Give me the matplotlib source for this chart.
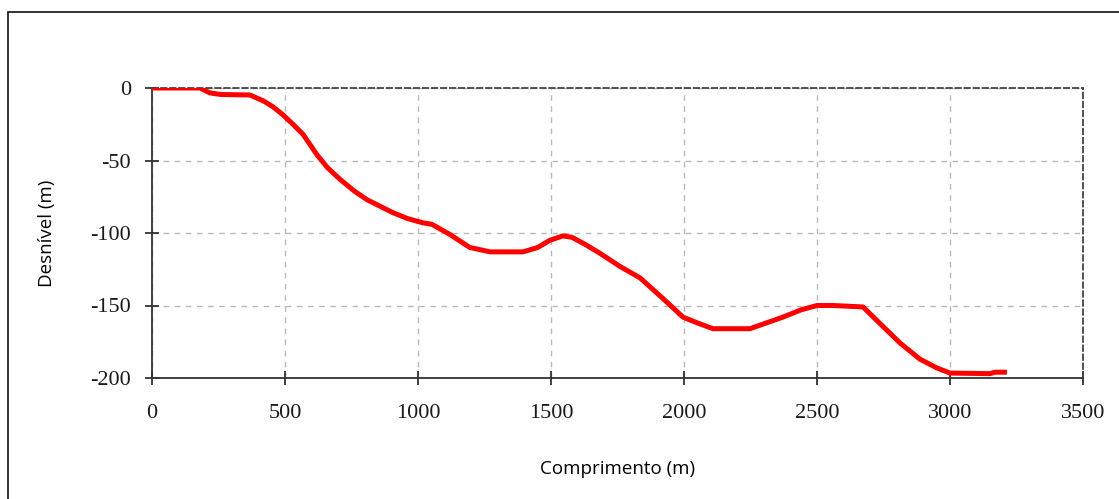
import matplotlib
matplotlib.use("Agg")
import matplotlib.pyplot as plt
from matplotlib.patches import Rectangle

# perfil do terreno: comprimento (m) x desnivel (m)
comprimento = [0, 100, 180, 218, 260, 368, 420, 455, 493, 530, 568, 620, 660,
               707, 760, 808, 906, 960, 1019, 1052, 1120, 1195, 1271, 1395,
               1450, 1496, 1545, 1579, 1630, 1684, 1759, 1835, 1920, 1996, 2050,
               2109, 2248, 2310, 2372, 2440, 2500, 2560, 2673, 2740, 2813, 2887,
               2950, 3000, 3150, 3170, 3214]
desnivel = [0, 0, 0, -3.4, -4.5, -4.8, -9, -13, -18.6, -25, -32, -46, -55,
            -63, -71, -77, -86, -90, -93, -94, -101, -110, -113, -113,
            -110, -105, -102, -103, -108, -114, -123, -131, -145, -158, -162,
            -166, -166, -162, -158, -153, -150, -150, -151, -163, -176, -187,
            -193, -196.6, -197, -196, -196]

x_ticks = [0, 500, 1000, 1500, 2000, 2500, 3000, 3500]
y_ticks = [0, -50, -100, -150, -200]

plt.rcParams["axes.unicode_minus"] = False

fig = plt.figure(figsize=(11.19, 4.99), dpi=100)
fig.patches.append(Rectangle((8 / 1119, -0.1), 1.2, 1 - 12 / 499 + 0.1,
                             transform=fig.transFigure, fill=False,
                             edgecolor="#222222", linewidth=1.3))

ax = fig.add_axes([152 / 1119, 1 - 378 / 499, 931 / 1119, 290 / 499])
ax.plot(comprimento, desnivel, color="#ff0000", linewidth=3.6,
        solid_capstyle="butt", solid_joinstyle="round", zorder=3)

ax.set_xlim(0, 3500)
ax.set_ylim(-200, 0)
ax.set_xticks(x_ticks)
ax.set_yticks(y_ticks)
ax.grid(True, color="#b8b8b8", linestyle=(0, (4, 4)), linewidth=1)

for side in ["left", "bottom"]:
    ax.spines[side].set_color("#333333")
    ax.spines[side].set_linewidth(1.3)
for side in ["top", "right"]:
    ax.spines[side].set_color("#444444")
    ax.spines[side].set_linestyle((0, (3, 2)))
    ax.spines[side].set_linewidth(1.3)

ax.tick_params(direction="inout", length=10, width=1.3, color="#333333",
               labelsize=16, labelcolor="#1a1a1a")
ax.tick_params(axis="x", pad=14)
ax.tick_params(axis="y", pad=10)
for lbl in ax.get_xticklabels() + ax.get_yticklabels():
    lbl.set_fontfamily("Liberation Serif")

ax.set_xlabel("Comprimento (m)", fontsize=13.5, family="Open Sans", labelpad=26)
ax.set_ylabel("Desnível (m)", fontsize=13.5, family="Open Sans", labelpad=25)

fig.savefig("out.png", dpi=100)
